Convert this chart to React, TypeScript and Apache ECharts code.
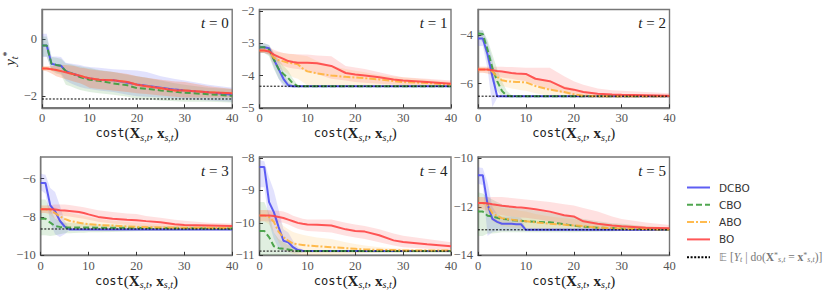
import React, { useEffect, useRef } from 'react';
import * as echarts from 'echarts';

// cost grid (x values)
const X = [0, 1, 2, 3, 4, 5, 6, 7, 8, 9, 10, 12, 15, 18, 20, 22, 25, 28, 30, 35, 40];

// ---------- t = 0 ----------
const D0 = [-0.22, -0.22, -0.86, -0.9, -0.93, -1.12, -1.18, -1.24, -1.3, -1.34, -1.38, -1.42, -1.44, -1.53, -1.59, -1.63, -1.7, -1.77, -1.8, -1.86, -1.95];
const D0lo = [-0.62, -0.62, -1.05, -1.15, -1.2, -1.45, -1.55, -1.62, -1.68, -1.72, -1.75, -1.8, -1.85, -1.95, -2.0, -2.02, -2.05, -2.08, -2.1, -2.15, -2.2];
const D0hi = [0.2, 0.2, -0.6, -0.6, -0.62, -0.82, -0.85, -0.88, -0.9, -0.95, -0.97, -1.0, -1.05, -1.08, -1.1, -1.15, -1.3, -1.4, -1.45, -1.6, -1.7];
const C0 = [-0.22, -0.22, -0.86, -0.9, -0.93, -1.12, -1.18, -1.26, -1.33, -1.38, -1.42, -1.46, -1.55, -1.62, -1.72, -1.74, -1.8, -1.84, -1.88, -1.93, -1.99];
const C0lo = [-0.6, -0.6, -1.1, -1.2, -1.25, -1.6, -1.65, -1.72, -1.78, -1.82, -1.85, -1.9, -1.95, -2.02, -2.1, -2.12, -2.15, -2.18, -2.2, -2.2, -2.22];
const C0hi = [0.1, 0.1, -0.62, -0.65, -0.68, -0.85, -0.88, -0.92, -0.95, -0.98, -1.0, -1.08, -1.15, -1.25, -1.3, -1.35, -1.45, -1.55, -1.6, -1.7, -1.75];
const A0 = [-1.03, -1.03, -1.05, -1.08, -1.12, -1.16, -1.2, -1.24, -1.28, -1.33, -1.37, -1.42, -1.44, -1.5, -1.6, -1.65, -1.72, -1.8, -1.8, -1.86, -1.9];
const A0lo = [-1.1, -1.12, -1.2, -1.3, -1.35, -1.4, -1.45, -1.5, -1.55, -1.62, -1.7, -1.75, -1.8, -1.85, -1.9, -1.92, -1.98, -2.02, -2.05, -2.05, -2.05];
const A0hi = [-0.95, -0.95, -0.95, -0.92, -0.9, -0.9, -0.92, -0.95, -1.0, -1.02, -1.05, -1.1, -1.15, -1.22, -1.3, -1.35, -1.42, -1.48, -1.5, -1.65, -1.75];
const B0 = [-1.03, -1.03, -1.05, -1.08, -1.12, -1.16, -1.2, -1.24, -1.28, -1.33, -1.37, -1.42, -1.44, -1.5, -1.6, -1.65, -1.72, -1.8, -1.8, -1.86, -1.9];
const B0lo = [-1.1, -1.12, -1.2, -1.3, -1.35, -1.4, -1.45, -1.5, -1.55, -1.62, -1.7, -1.75, -1.8, -1.85, -1.9, -1.92, -1.98, -2.02, -2.05, -2.05, -2.05];
const B0hi = [-0.95, -0.95, -0.95, -0.92, -0.9, -0.9, -0.92, -0.95, -1.0, -1.02, -1.05, -1.1, -1.15, -1.22, -1.3, -1.35, -1.42, -1.48, -1.5, -1.65, -1.75];

// ---------- t = 1 ----------
const D1 = [-3.12, -3.12, -3.15, -3.5, -3.8, -4.1, -4.3, -4.33, -4.33, -4.33, -4.33, -4.33, -4.33, -4.33, -4.33, -4.33, -4.33, -4.33, -4.33, -4.33, -4.33];
const D1lo = [-3.3, -3.3, -3.35, -3.75, -4.1, -4.35, -4.38, -4.37, -4.36, -4.36, -4.36, -4.36, -4.36, -4.36, -4.36, -4.36, -4.36, -4.36, -4.36, -4.36, -4.36];
const D1hi = [-3.0, -3.0, -3.05, -3.3, -3.55, -3.9, -4.2, -4.3, -4.3, -4.3, -4.3, -4.3, -4.3, -4.3, -4.3, -4.3, -4.3, -4.3, -4.3, -4.3, -4.3];
const C1 = [-3.12, -3.12, -3.2, -3.5, -3.8, -3.95, -4.08, -4.25, -4.33, -4.33, -4.33, -4.33, -4.33, -4.33, -4.33, -4.33, -4.33, -4.33, -4.33, -4.33, -4.33];
const C1lo = [-3.3, -3.3, -3.4, -3.8, -4.1, -4.25, -4.35, -4.38, -4.37, -4.36, -4.36, -4.36, -4.36, -4.36, -4.36, -4.36, -4.36, -4.36, -4.36, -4.36, -4.36];
const C1hi = [-3.0, -3.0, -3.05, -3.3, -3.5, -3.7, -3.85, -4.1, -4.3, -4.3, -4.3, -4.3, -4.3, -4.3, -4.3, -4.3, -4.3, -4.3, -4.3, -4.3, -4.3];
const A1 = [-3.22, -3.22, -3.25, -3.45, -3.52, -3.56, -3.6, -3.62, -3.65, -3.78, -3.87, -3.93, -4.0, -4.04, -4.06, -4.08, -4.12, -4.17, -4.2, -4.23, -4.28];
const A1lo = [-3.3, -3.3, -3.35, -3.65, -3.75, -3.85, -3.95, -4.05, -4.1, -4.2, -4.3, -4.32, -4.33, -4.33, -4.33, -4.34, -4.34, -4.34, -4.34, -4.34, -4.34];
const A1hi = [-3.1, -3.1, -3.12, -3.25, -3.28, -3.3, -3.32, -3.34, -3.36, -3.38, -3.4, -3.55, -3.7, -3.8, -3.85, -3.9, -3.98, -4.03, -4.05, -4.12, -4.2];
const B1 = [-3.22, -3.22, -3.25, -3.35, -3.42, -3.48, -3.55, -3.58, -3.6, -3.6, -3.6, -3.62, -3.7, -3.92, -3.97, -4.0, -4.05, -4.12, -4.15, -4.2, -4.25];
const B1lo = [-3.3, -3.3, -3.35, -3.5, -3.6, -3.7, -3.75, -3.78, -3.8, -3.82, -3.85, -3.95, -4.1, -4.15, -4.2, -4.22, -4.25, -4.28, -4.3, -4.32, -4.33];
const B1hi = [-3.1, -3.1, -3.12, -3.2, -3.25, -3.3, -3.32, -3.33, -3.34, -3.35, -3.35, -3.38, -3.4, -3.7, -3.75, -3.8, -3.9, -4.0, -4.05, -4.1, -4.15];

// ---------- t = 2 ----------
const D2 = [-4.14, -4.14, -4.8, -5.7, -6.52, -6.52, -6.52, -6.52, -6.52, -6.52, -6.52, -6.52, -6.52, -6.52, -6.52, -6.52, -6.52, -6.52, -6.52, -6.52, -6.52];
const D2lo = [-4.45, -4.45, -5.4, -6.97, -6.6, -6.56, -6.56, -6.56, -6.56, -6.56, -6.56, -6.56, -6.56, -6.56, -6.56, -6.56, -6.56, -6.56, -6.56, -6.56, -6.56];
const D2hi = [-3.8, -3.8, -4.3, -5.0, -6.45, -6.48, -6.48, -6.48, -6.48, -6.48, -6.48, -6.48, -6.48, -6.48, -6.48, -6.48, -6.48, -6.48, -6.48, -6.48, -6.48];
const C2 = [-3.93, -3.95, -4.6, -5.35, -5.9, -6.3, -6.5, -6.52, -6.52, -6.52, -6.52, -6.52, -6.52, -6.52, -6.52, -6.52, -6.52, -6.52, -6.52, -6.52, -6.52];
const C2lo = [-4.1, -4.3, -5.1, -5.9, -6.3, -6.55, -6.6, -6.57, -6.56, -6.56, -6.56, -6.56, -6.56, -6.56, -6.56, -6.56, -6.56, -6.56, -6.56, -6.56, -6.56];
const C2hi = [-3.8, -3.8, -4.2, -4.8, -5.4, -5.9, -6.3, -6.47, -6.48, -6.48, -6.48, -6.48, -6.48, -6.48, -6.48, -6.48, -6.48, -6.48, -6.48, -6.48, -6.48];
const A2 = [-5.42, -5.42, -5.42, -5.5, -5.72, -5.86, -5.9, -5.92, -5.93, -5.94, -5.95, -6.1, -6.25, -6.35, -6.44, -6.5, -6.52, -6.52, -6.52, -6.52, -6.52];
const A2lo = [-5.55, -5.55, -5.58, -5.7, -5.95, -6.1, -6.15, -6.2, -6.23, -6.27, -6.3, -6.4, -6.5, -6.55, -6.58, -6.58, -6.58, -6.57, -6.57, -6.56, -6.56];
const A2hi = [-5.3, -5.3, -5.3, -5.35, -5.5, -5.55, -5.57, -5.58, -5.59, -5.6, -5.6, -5.75, -5.9, -6.1, -6.2, -6.3, -6.4, -6.45, -6.47, -6.5, -6.5];
const B2 = [-5.42, -5.42, -5.42, -5.45, -5.48, -5.5, -5.53, -5.56, -5.58, -5.59, -5.6, -5.8, -5.9, -6.18, -6.25, -6.35, -6.42, -6.45, -6.46, -6.48, -6.5];
const B2lo = [-5.55, -5.55, -5.58, -5.62, -5.68, -5.75, -5.78, -5.8, -5.84, -5.87, -5.9, -6.05, -6.25, -6.4, -6.5, -6.52, -6.55, -6.57, -6.58, -6.58, -6.58];
const B2hi = [-5.3, -5.3, -5.3, -5.3, -5.3, -5.3, -5.31, -5.32, -5.33, -5.34, -5.35, -5.35, -5.35, -5.7, -5.9, -6.05, -6.2, -6.27, -6.3, -6.35, -6.4];

// ---------- t = 3 ----------
const D3 = [-6.23, -6.23, -7.4, -7.7, -8.2, -8.5, -8.65, -8.65, -8.65, -8.65, -8.65, -8.65, -8.65, -8.65, -8.65, -8.65, -8.65, -8.65, -8.65, -8.65, -8.65];
const D3lo = [-6.6, -6.8, -8.3, -8.9, -9.05, -8.9, -8.7, -8.7, -8.7, -8.7, -8.7, -8.7, -8.7, -8.7, -8.7, -8.7, -8.7, -8.7, -8.7, -8.7, -8.7];
const D3hi = [-5.75, -5.8, -6.5, -6.7, -7.4, -8.2, -8.6, -8.6, -8.6, -8.6, -8.6, -8.6, -8.6, -8.6, -8.6, -8.6, -8.6, -8.6, -8.6, -8.6, -8.6];
const C3 = [-8.1, -8.1, -8.3, -8.48, -8.52, -8.55, -8.55, -8.55, -8.55, -8.55, -8.55, -8.56, -8.56, -8.57, -8.57, -8.58, -8.58, -8.59, -8.59, -8.6, -8.6];
const C3lo = [-8.95, -8.95, -9.0, -8.95, -8.9, -8.85, -8.85, -8.84, -8.83, -8.82, -8.8, -8.8, -8.78, -8.76, -8.75, -8.74, -8.73, -8.72, -8.71, -8.7, -8.7];
const C3hi = [-7.1, -7.1, -7.6, -8.1, -8.2, -8.3, -8.3, -8.32, -8.33, -8.34, -8.35, -8.38, -8.4, -8.43, -8.45, -8.46, -8.47, -8.48, -8.49, -8.5, -8.5];
const A3 = [-7.6, -7.6, -7.65, -7.8, -7.97, -8.1, -8.2, -8.25, -8.3, -8.35, -8.38, -8.42, -8.45, -8.5, -8.52, -8.53, -8.55, -8.56, -8.56, -8.57, -8.58];
const A3lo = [-7.8, -7.8, -7.9, -8.1, -8.3, -8.5, -8.55, -8.6, -8.65, -8.68, -8.7, -8.7, -8.7, -8.7, -8.7, -8.7, -8.7, -8.7, -8.7, -8.7, -8.7];
const A3hi = [-7.4, -7.4, -7.42, -7.5, -7.6, -7.7, -7.78, -7.85, -7.9, -7.95, -8.0, -8.1, -8.2, -8.27, -8.3, -8.33, -8.37, -8.4, -8.42, -8.44, -8.45];
const B3 = [-7.6, -7.6, -7.6, -7.62, -7.65, -7.67, -7.69, -7.72, -7.75, -7.8, -7.87, -8.0, -8.1, -8.15, -8.17, -8.22, -8.28, -8.38, -8.42, -8.45, -8.48];
const B3lo = [-7.8, -7.8, -7.82, -7.85, -7.9, -7.95, -7.98, -8.02, -8.06, -8.1, -8.15, -8.25, -8.35, -8.42, -8.45, -8.5, -8.55, -8.58, -8.6, -8.62, -8.62];
const B3hi = [-7.4, -7.4, -7.38, -7.36, -7.35, -7.35, -7.38, -7.42, -7.46, -7.5, -7.55, -7.65, -7.75, -7.82, -7.85, -7.95, -8.05, -8.15, -8.2, -8.3, -8.35];

// ---------- t = 4 ----------
const D4 = [-8.28, -8.28, -9.36, -9.67, -10.13, -10.55, -10.6, -10.75, -10.84, -10.86, -10.87, -10.87, -10.87, -10.87, -10.87, -10.87, -10.87, -10.87, -10.87, -10.87, -10.87];
const D4lo = [-8.9, -8.9, -10.0, -10.5, -10.8, -10.9, -10.9, -10.92, -10.92, -10.91, -10.9, -10.9, -10.9, -10.9, -10.9, -10.9, -10.9, -10.9, -10.9, -10.9, -10.9];
const D4hi = [-8.07, -8.1, -8.6, -9.0, -9.6, -10.2, -10.3, -10.55, -10.75, -10.82, -10.85, -10.85, -10.85, -10.85, -10.85, -10.85, -10.85, -10.85, -10.85, -10.85, -10.85];
const C4 = [-10.25, -10.25, -10.44, -10.72, -10.78, -10.8, -10.82, -10.85, -10.87, -10.87, -10.87, -10.87, -10.87, -10.87, -10.87, -10.87, -10.87, -10.87, -10.87, -10.87, -10.87];
const C4lo = [-11.0, -11.0, -11.0, -11.0, -11.0, -11.0, -10.98, -10.96, -10.95, -10.92, -10.92, -10.92, -10.92, -10.92, -10.92, -10.92, -10.92, -10.92, -10.92, -10.92, -10.92];
const C4hi = [-9.36, -9.36, -9.7, -10.3, -10.5, -10.6, -10.68, -10.75, -10.8, -10.84, -10.84, -10.84, -10.84, -10.84, -10.84, -10.84, -10.84, -10.84, -10.84, -10.84, -10.84];
const A4 = [-9.77, -9.77, -9.82, -9.97, -10.28, -10.44, -10.55, -10.64, -10.66, -10.68, -10.7, -10.72, -10.75, -10.78, -10.8, -10.82, -10.83, -10.84, -10.85, -10.85, -10.85];
const A4lo = [-9.95, -9.95, -10.05, -10.3, -10.6, -10.85, -10.9, -10.95, -10.98, -11.0, -11.0, -11.0, -11.0, -10.98, -10.95, -10.94, -10.92, -10.91, -10.9, -10.9, -10.9];
const A4hi = [-9.6, -9.6, -9.62, -9.7, -9.9, -10.1, -10.2, -10.28, -10.33, -10.37, -10.4, -10.45, -10.5, -10.6, -10.65, -10.7, -10.75, -10.78, -10.8, -10.81, -10.82];
const B4 = [-9.77, -9.77, -9.77, -9.79, -9.82, -9.85, -9.9, -9.95, -10.0, -10.03, -10.05, -10.06, -10.08, -10.2, -10.25, -10.27, -10.38, -10.54, -10.59, -10.66, -10.72];
const B4lo = [-9.95, -9.95, -9.96, -9.97, -9.98, -10.0, -10.05, -10.12, -10.18, -10.22, -10.25, -10.27, -10.3, -10.4, -10.45, -10.5, -10.6, -10.7, -10.75, -10.8, -10.85];
const B4hi = [-9.6, -9.6, -9.6, -9.62, -9.63, -9.65, -9.7, -9.78, -9.83, -9.87, -9.9, -9.9, -9.9, -10.0, -10.05, -10.1, -10.2, -10.33, -10.4, -10.5, -10.6];

// ---------- t = 5 ----------
const D5 = [-10.7, -10.7, -11.9, -12.5, -12.62, -12.7, -12.7, -12.7, -12.72, -12.72, -12.95, -12.95, -12.95, -12.95, -12.95, -12.95, -12.95, -12.95, -12.95, -12.95, -12.95];
const D5lo = [-11.05, -11.1, -13.2, -13.05, -13.0, -13.0, -13.0, -13.0, -13.0, -13.0, -13.0, -13.0, -13.0, -13.0, -13.0, -13.0, -13.0, -13.0, -13.0, -13.0, -13.0];
const D5hi = [-10.37, -10.4, -11.0, -12.0, -12.3, -12.4, -12.4, -12.4, -12.42, -12.45, -12.9, -12.9, -12.9, -12.9, -12.9, -12.9, -12.9, -12.9, -12.9, -12.9, -12.9];
const C5 = [-12.2, -12.2, -12.37, -12.4, -12.45, -12.5, -12.52, -12.55, -12.57, -12.58, -12.6, -12.62, -12.64, -12.72, -12.78, -12.82, -12.86, -12.88, -12.9, -12.92, -12.94];
const C5lo = [-13.2, -13.2, -13.1, -13.1, -13.08, -13.05, -13.05, -13.05, -13.05, -13.05, -13.05, -13.05, -13.05, -13.05, -13.05, -13.04, -13.03, -13.02, -13.0, -13.0, -13.0];
const C5hi = [-11.4, -11.45, -11.6, -11.7, -11.8, -11.9, -11.95, -12.0, -12.05, -12.08, -12.1, -12.15, -12.25, -12.35, -12.4, -12.5, -12.6, -12.68, -12.7, -12.8, -12.85];
const A5 = [-11.85, -11.85, -11.95, -12.26, -12.38, -12.47, -12.5, -12.53, -12.56, -12.58, -12.6, -12.64, -12.7, -12.74, -12.77, -12.8, -12.86, -12.88, -12.9, -12.92, -12.94];
const A5lo = [-12.1, -12.1, -12.3, -12.6, -12.7, -12.8, -12.82, -12.85, -12.87, -12.88, -12.9, -12.92, -12.93, -12.95, -12.95, -12.96, -12.97, -12.98, -13.0, -13.0, -13.0];
const A5hi = [-11.6, -11.6, -11.7, -11.9, -12.0, -12.05, -12.08, -12.1, -12.13, -12.17, -12.2, -12.3, -12.4, -12.47, -12.5, -12.58, -12.68, -12.73, -12.75, -12.8, -12.85];
const B5 = [-11.85, -11.85, -11.86, -11.9, -11.93, -11.96, -11.98, -12.0, -12.02, -12.03, -12.05, -12.1, -12.2, -12.35, -12.4, -12.6, -12.7, -12.77, -12.8, -12.86, -12.89];
const B5lo = [-12.1, -12.1, -12.15, -12.22, -12.3, -12.35, -12.38, -12.4, -12.42, -12.44, -12.45, -12.5, -12.6, -12.72, -12.8, -12.85, -12.9, -12.93, -12.95, -12.97, -12.98];
const B5hi = [-11.6, -11.6, -11.6, -11.6, -11.6, -11.6, -11.62, -11.64, -11.66, -11.68, -11.7, -11.74, -11.8, -11.9, -11.95, -12.05, -12.2, -12.4, -12.5, -12.65, -12.75];

// optimal expected values (dotted line) per time step
const OPT = [-2.1, -4.33, -6.52, -8.63, -10.87, -12.95];
// axis limits and tick labels
const YMIN = [-2.41, -5, -7.0, -10, -11, -14];
const YMAX = [1.05, -1.95, -2.94, -4.88, -7.97, -9.95];
const YTICKS = [[0, -2], [-2, -3, -4, -5], [-4, -6], [-6, -8, -10], [-8, -9, -10, -11], [-10, -12, -14]];
const XTICK_STEP = 10;

const METHODS = ['DCBO', 'CBO', 'ABO', 'BO'];
const OPT_NAME = 'E[Y_t | do(X*=x*)]';

const MEANS = [
  [D0, C0, A0, B0], [D1, C1, A1, B1], [D2, C2, A2, B2],
  [D3, C3, A3, B3], [D4, C4, A4, B4], [D5, C5, A5, B5],
];
const LOWS = [
  [D0lo, C0lo, A0lo, B0lo], [D1lo, C1lo, A1lo, B1lo], [D2lo, C2lo, A2lo, B2lo],
  [D3lo, C3lo, A3lo, B3lo], [D4lo, C4lo, A4lo, B4lo], [D5lo, C5lo, A5lo, B5lo],
];
const HIGHS = [
  [D0hi, C0hi, A0hi, B0hi], [D1hi, C1hi, A1hi, B1hi], [D2hi, C2hi, A2hi, B2hi],
  [D3hi, C3hi, A3hi, B3hi], [D4hi, C4hi, A4hi, B4hi], [D5hi, C5hi, A5hi, B5hi],
];

const COLORS: Record<string, string> = {
  DCBO: '#4d4df2',
  CBO: '#3d9c3d',
  ABO: '#ffb43c',
  BO: '#ff4545',
};
const LINE_TYPES: Record<string, any> = {
  DCBO: 'solid',
  CBO: [6, 3],
  ABO: [7, 2, 2, 2],
  BO: 'solid',
};

const COL_LEFT = [40.7, 259.5, 478];
const ROW_TOP = [9.5, 157];
const GW = 191.5;
const GH = 98.3;

const SERIF = "'Liberation Serif', 'DejaVu Serif', serif";
const FRAME = '#777';
const LABEL = '#555';

function pairs(ys: number[]) {
  return X.map((x, i) => [x, ys[i]]);
}
function fmt(v: number) {
  return String(v).replace('-', '\u2212');
}

function bandSeries(t: number, k: number) {
  const m = METHODS[k];
  const lo = LOWS[t][k];
  const hi = HIGHS[t][k];
  return {
    type: 'custom',
    name: m + '_band_' + t,
    xAxisIndex: t,
    yAxisIndex: t,
    silent: true,
    clip: true,
    data: X.map((x, i) => [x, lo[i], hi[i]]),
    encode: { x: 0, y: [1, 2] },
    renderItem: (params: any, api: any) => {
      if (params.dataIndex !== 0) return null;
      const top = X.map((x, i) => api.coord([x, hi[i]]));
      const bottom = X.map((x, i) => api.coord([x, lo[i]])).reverse();
      const cs = params.coordSys;
      return {
        type: 'polygon',
        shape: { points: top.concat(bottom) },
        style: { fill: COLORS[m], opacity: 0.16 },
        clipPath: { type: 'rect', shape: { x: cs.x, y: cs.y, width: cs.width, height: cs.height } },
      };
    },
  };
}

function buildOption() {
  const grids: any[] = [];
  const xAxes: any[] = [];
  const yAxes: any[] = [];
  const titles: any[] = [];
  const series: any[] = [];

  for (let t = 0; t < 6; t++) {
    const row = Math.floor(t / 3);
    const col = t % 3;
    grids.push({
      left: COL_LEFT[col],
      top: ROW_TOP[row],
      width: GW,
      height: GH,
      show: true,
      borderColor: FRAME,
      borderWidth: 1.4,
      backgroundColor: 'transparent',
      containLabel: false,
    });
    xAxes.push({
      gridIndex: t,
      type: 'value',
      min: 0,
      max: 40,
      interval: XTICK_STEP,
      axisLine: { show: true, onZero: false, lineStyle: { color: FRAME, width: 1.4 } },
      axisTick: { show: true, inside: true, length: 3.5, lineStyle: { color: '#333' } },
      axisLabel: { fontFamily: SERIF, fontSize: 12.5, color: LABEL, margin: 4 },
      splitLine: { show: false },
      name: '{m|cost}{r|(}{b|X}{s|s,t}{r|, }{b|x}{s|s,t}{r|)}',
      nameLocation: 'middle',
      nameGap: 16,
      nameTextStyle: {
        rich: {
          m: { fontFamily: "'DejaVu Sans Mono', monospace", fontSize: 12, color: '#222', lineHeight: 18, verticalAlign: 'middle' },
          r: { fontFamily: SERIF, fontSize: 15, color: '#222', lineHeight: 18 },
          b: { fontFamily: SERIF, fontSize: 15, fontWeight: 'bold', color: '#222', lineHeight: 18 },
          s: { fontFamily: SERIF, fontSize: 10, fontStyle: 'italic', color: '#222', verticalAlign: 'bottom', lineHeight: 12 },
        },
      },
    });
    const yAxis: any = {
      gridIndex: t,
      type: 'value',
      min: YMIN[t],
      max: YMAX[t],
      axisLine: { show: true, onZero: false, lineStyle: { color: FRAME, width: 1.4 } },
      axisTick: { show: true, inside: true, length: 3.5, lineStyle: { color: '#333' }, customValues: YTICKS[t] },
      axisLabel: {
        customValues: YTICKS[t],
        formatter: (v: number) => fmt(v),
        fontFamily: SERIF,
        fontSize: 12.5,
        color: LABEL,
        margin: 5,
      },
      splitLine: { show: false },
    };
    if (t === 0) {
      yAxis.name = '{i|y}{s|t}{p|*}';
      yAxis.nameLocation = 'middle';
      yAxis.nameRotate = 90;
      yAxis.nameGap = 23;
      yAxis.nameTextStyle = {
        rich: {
          i: { fontFamily: SERIF, fontStyle: 'italic', fontSize: 15, color: '#222', lineHeight: 18 },
          s: { fontFamily: SERIF, fontStyle: 'italic', fontSize: 10, color: '#222', verticalAlign: 'bottom', lineHeight: 12 },
          p: { fontFamily: SERIF, fontSize: 10, color: '#222', verticalAlign: 'top', lineHeight: 12 },
        },
      };
    }
    yAxes.push(yAxis);

    titles.push({
      text: '{i|t} = ' + t,
      right: 830 - (COL_LEFT[col] + GW - 3.5),
      top: ROW_TOP[row] + 6,
      padding: 0,
      textStyle: {
        fontFamily: SERIF,
        fontSize: 15,
        fontWeight: 'normal',
        color: '#222',
        rich: { i: { fontFamily: SERIF, fontStyle: 'italic', fontSize: 15, color: '#222' } },
      },
    });

    // shaded bands
    METHODS.forEach((_m, k) => series.push(bandSeries(t, k)));
    // mean lines
    METHODS.forEach((m, k) => {
      series.push({
        type: 'line',
        name: m,
        xAxisIndex: t,
        yAxisIndex: t,
        data: pairs(MEANS[t][k]),
        symbol: 'none',
        color: COLORS[m],
        lineStyle: { color: COLORS[m], width: 2, type: LINE_TYPES[m], opacity: 0.9 },
      });
    });
    series.push({
      type: 'line',
      name: OPT_NAME,
      xAxisIndex: t,
      yAxisIndex: t,
      data: [[0, OPT[t]], [40, OPT[t]]],
      symbol: 'none',
      color: '#000',
      lineStyle: { color: '#000', width: 1, type: [2, 1.6] },
    });
  }

  return {
    animation: false,
    backgroundColor: '#fff',
    title: titles,
    grid: grids,
    xAxis: xAxes,
    yAxis: yAxes,
    legend: {
      data: [...METHODS, OPT_NAME],
      orient: 'vertical',
      left: 681,
      top: 177,
      itemWidth: 23,
      itemHeight: 10,
      itemGap: 6.3,
      selectedMode: false,
      itemStyle: { opacity: 0 },
      formatter: (name: string) =>
        name === OPT_NAME
          ? '{e|\u{1D53C}}{g| [}{i|Y}{s|t}{g| | do(}{b|X}{p|*}{s|s,t}{g| = }{b|x}{p|*}{s|s,t}{g|)]}'
          : name,
      textStyle: {
        fontFamily: "'DejaVu Sans', sans-serif",
        fontSize: 10.5,
        color: '#333',
        padding: [0, 0, 0, 4],
        rich: {
          e: { fontFamily: "'DejaVu Sans', serif", fontSize: 11, color: '#777' },
          g: { fontFamily: SERIF, fontSize: 11.5, color: '#777' },
          i: { fontFamily: SERIF, fontStyle: 'italic', fontSize: 11.5, color: '#777' },
          b: { fontFamily: SERIF, fontWeight: 'bold', fontSize: 11.5, color: '#777' },
          s: { fontFamily: SERIF, fontStyle: 'italic', fontSize: 8, color: '#777', verticalAlign: 'bottom', lineHeight: 10 },
          p: { fontFamily: SERIF, fontSize: 8, color: '#777', verticalAlign: 'top', lineHeight: 10 },
        },
      },
    },
    series,
  };
}

export default function App() {
  const ref = useRef<HTMLDivElement>(null);
  useEffect(() => {
    document.body.style.margin = '0';
    if (!ref.current) return;
    const chart = echarts.init(ref.current, undefined, { renderer: 'svg' });
    chart.setOption(buildOption() as any);
    return () => chart.dispose();
  }, []);
  return (
    <div
      ref={ref}
      style={{ position: 'fixed', left: 0, top: 0, width: 830, height: 294, background: '#fff' }}
    />
  );
}
